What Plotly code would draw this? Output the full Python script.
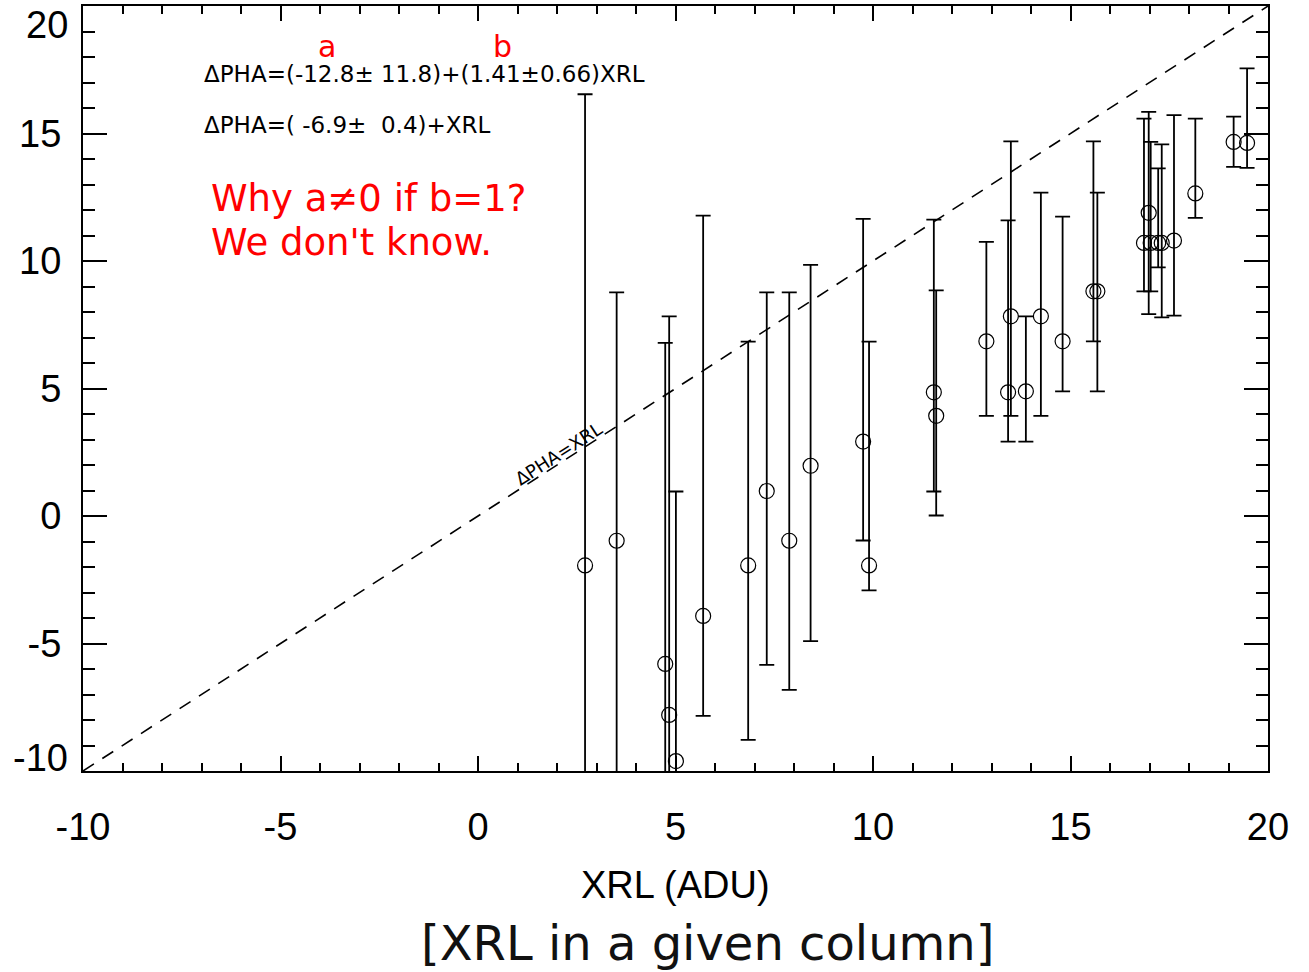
import plotly.graph_objects as go

# Per-column measurements: XRL value, mean ΔPHA and the upper / lower ends of each error bar
xrl = [2.71, 3.51, 4.74, 4.84, 5.01, 5.70, 6.84, 7.31, 7.88, 8.42, 9.75, 9.90,
       11.54, 11.60, 12.87, 13.42, 13.49, 13.87, 14.25, 14.80, 15.58, 15.68,
       16.86, 16.98, 17.03, 17.22, 17.31, 17.62, 18.16, 19.13, 19.47]
dpha = [-1.94, -0.97, -5.80, -7.80, -9.61, -3.92, -1.94, 0.98, -0.97, 1.97, 2.92, -1.94,
        4.85, 3.93, 6.85, 4.85, 7.83, 4.89, 7.83, 6.85, 8.81, 8.81,
        10.71, 11.89, 10.71, 10.71, 10.71, 10.80, 12.65, 14.67, 14.63]
dpha_hi = [16.54, 8.77, 6.79, 7.83, 0.96, 11.78, 6.84, 8.77, 8.77, 9.85, 11.65, 6.84,
           11.62, 8.85, 10.75, 11.59, 14.69, 7.83, 12.68, 11.74, 14.69, 12.68,
           15.58, 15.85, 14.67, 13.63, 14.57, 15.72, 15.58, 15.66, 17.55]
dpha_lo = [-20.42, -10.71, -18.39, -23.43, -20.18, -7.84, -8.78, -5.84, -6.82, -4.91, -0.96, -2.92,
           0.96, 0.02, 3.93, 2.92, 3.93, 2.92, 3.93, 4.89, 6.85, 4.89,
           8.81, 7.92, 8.81, 9.75, 7.79, 7.86, 11.69, 13.69, 13.65]

# Reference relation ΔPHA = XRL
identity = [-10, 20]

x_ticks = [-10, -5, 0, 5, 10, 15, 20]
y_ticks = [-5, 0, 5, 10, 15]

err_plus = [h - v for h, v in zip(dpha_hi, dpha)]
err_minus = [v - l for v, l in zip(dpha, dpha_lo)]

TICK_FONT = dict(family="Liberation Sans, Arial, sans-serif", size=38, color="black")
EQ_FONT = dict(family="DejaVu Sans, sans-serif", size=23, color="black")
RED_FONT = dict(family="DejaVu Sans, sans-serif", size=37, color="#ff0000")

fig = go.Figure()

fig.add_trace(go.Scatter(
    x=identity, y=identity, mode="lines",
    line=dict(color="black", width=1.6, dash="13px,10px"),
    hoverinfo="skip", showlegend=False,
))

fig.add_trace(go.Scatter(
    x=xrl, y=dpha, mode="markers",
    marker=dict(symbol="circle-open", size=15, color="black", line=dict(width=1.2, color="black")),
    error_y=dict(type="data", symmetric=False, array=err_plus, arrayminus=err_minus,
                 color="black", thickness=1.8, width=7.5),
    showlegend=False,
))

axis_common = dict(
    range=[-10, 20], showgrid=False, zeroline=False,
    showline=True, linecolor="black", linewidth=2, mirror="ticks",
    ticks="inside", tickcolor="black", tickwidth=2,
    tickfont=TICK_FONT,
)

fig.update_xaxes(
    **axis_common, tickvals=x_ticks, ticktext=[str(v) for v in x_ticks],
    ticklen=15, ticklabelstandoff=21,
    minor=dict(dtick=1, tick0=0, ticks="inside", ticklen=8, tickwidth=2, tickcolor="black"),
)
fig.update_yaxes(
    **axis_common, tickvals=y_ticks, ticktext=[str(v) for v in y_ticks],
    ticklen=24, ticklabelstandoff=12,
    minor=dict(dtick=1, tick0=0, ticks="inside", ticklen=12, tickwidth=2, tickcolor="black"),
)

annotations = [
    # end labels of the y axis, nudged inside the canvas
    dict(text="20", xref="paper", yref="paper", x=0, y=(771 - 25) / 765, xshift=-13,
         xanchor="right", yanchor="middle", showarrow=False, font=TICK_FONT),
    dict(text="-10", xref="paper", yref="paper", x=0, y=(771 - 758) / 765, xshift=-13,
         xanchor="right", yanchor="middle", showarrow=False, font=TICK_FONT),
    # axis title and caption
    dict(text="XRL (ADU)", xref="paper", yref="paper", x=(675 - 83) / 1185, y=(771 - 885) / 765,
         xanchor="center", yanchor="middle", showarrow=False, font=TICK_FONT),
    dict(text="[XRL in a given column]", xref="paper", yref="paper", x=(708 - 83) / 1185,
         y=(771 - 943) / 765, xanchor="center", yanchor="middle", showarrow=False,
         font=dict(family="DejaVu Sans, sans-serif", size=48, color="#111111")),
    # fitted relations
    dict(text="ΔPHA=(-12.8±\u00a011.8)+(1.41±0.66)XRL", x=-6.99, y=17.32,
         xanchor="left", yanchor="middle", showarrow=False, font=EQ_FONT),
    dict(text="ΔPHA=(\u00a0-6.9±\u00a0\u00a00.4)+XRL", x=-6.99, y=15.35,
         xanchor="left", yanchor="middle", showarrow=False, font=EQ_FONT),
    dict(text="a", x=-3.83, y=18.42, xanchor="center", yanchor="middle", showarrow=False,
         font=dict(family="DejaVu Sans, sans-serif", size=30, color="#ff0000")),
    dict(text="b", x=0.61, y=18.42, xanchor="center", yanchor="middle", showarrow=False,
         font=dict(family="DejaVu Sans, sans-serif", size=30, color="#ff0000")),
    dict(text="Why a≠0 if b=1?", x=-6.82, y=(516.2 - 199) / 25.48,
         xanchor="left", yanchor="middle", showarrow=False, font=RED_FONT),
    dict(text="We don't know.", x=-6.82, y=(516.2 - 243) / 25.48,
         xanchor="left", yanchor="middle", showarrow=False, font=RED_FONT),
    # label along the identity line
    dict(text="ΔPHA=XRL", x=2.05, y=2.45, textangle=-32.9,
         xanchor="center", yanchor="middle", showarrow=False,
         font=dict(family="DejaVu Sans, sans-serif", size=18, color="black")),
]

fig.update_layout(
    width=1309, height=972,
    margin=dict(l=83, r=41, t=6, b=201, autoexpand=False),
    plot_bgcolor="white", paper_bgcolor="white",
    annotations=annotations,
    showlegend=False,
)

fig.write_html("out.html")
